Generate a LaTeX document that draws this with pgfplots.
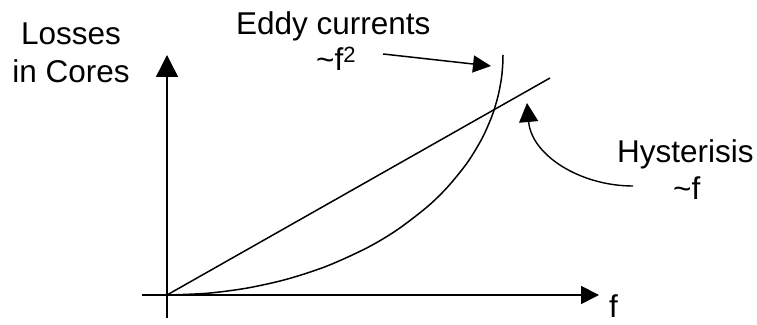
\documentclass[border=0pt]{standalone}
\usepackage{pgfplots}
\pgfplotsset{compat=1.18}
\usepackage{fontspec}
\setmainfont{Liberation Sans}
\usetikzlibrary{arrows.meta}
\newcommand\bigf{\fontsize{31.5bp}{37bp}\selectfont}
\begin{document}
\begin{tikzpicture}
\begin{axis}[
  scale only axis, width=757bp, height=325bp,
  xmin=-167, xmax=590, ymin=-30, ymax=295,
  hide axis, clip=false,
]
% x axis and y axis
\draw[line width=1.8bp, -{Triangle[length=18bp,width=18bp]}] (axis cs:-25,0) -- (axis cs:432,0);
\draw[line width=1.4bp, -{Triangle[length=22bp,width=22bp]}] (axis cs:0,-23) -- (axis cs:0,240);
% Hysteresis ~ f
\addplot[line width=1.5bp, black] coordinates {(0,0) (383,217)};
% Eddy currents ~ f^2
\addplot[line width=1.5bp, black, smooth] coordinates {
 (0,0) (40,1.71) (80,6.90) (120,15.83) (160,28.96) (200,47.15) (230,65.04)
 (260,87.98) (280,107.34) (300,131.92) (315,156.48) (325,179.10) (331,198.75)
 (334,213.85) (335,221.5) (335.8,231.7) (336,240)};
% annotation arrows
\draw[line width=1.5bp, -{Triangle[length=18bp,width=17bp]}] (axis cs:216,241) -- (axis cs:324,229);
\draw[line width=1.4bp, -{Triangle[length=19bp,width=19bp]}] (axis cs:466,109) to[out=180,in=-85] (axis cs:360,192);
% labels
\node[anchor=base, inner sep=0] at (axis cs:-96,250) {\bigf Losses};
\node[anchor=base, inner sep=0] at (axis cs:-96,212) {\bigf in Cores};
\node[anchor=base west, inner sep=0] at (axis cs:69,260) {\bigf Eddy currents};
\node[anchor=base west, inner sep=0] at (axis cs:149,224) {\bigf \char"007E f\textsuperscript{2}};
\node[anchor=base west, inner sep=0] at (axis cs:450,132) {\bigf Hysterisis};
\node[anchor=base west, inner sep=0] at (axis cs:506,95) {\bigf \char"007E f};
\node[anchor=base west, inner sep=0] at (axis cs:442,-22) {\bigf f};
\end{axis}
\pgfresetboundingbox
\path[use as bounding box] (current axis.south west) rectangle (current axis.north east);
\end{tikzpicture}
\end{document}
